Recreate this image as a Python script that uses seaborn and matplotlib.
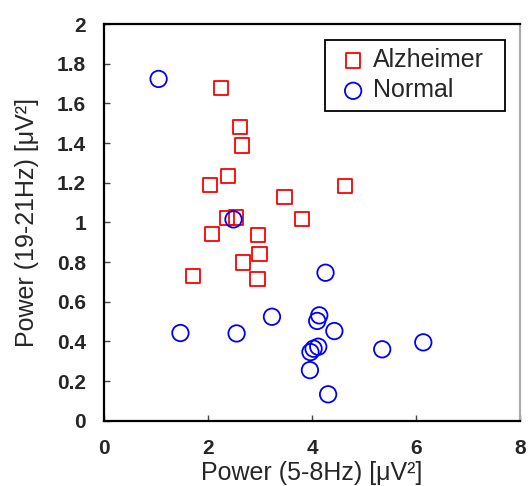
import matplotlib
matplotlib.use("Agg")
import matplotlib.pyplot as plt
from matplotlib.ticker import FuncFormatter
import seaborn as sns
import pandas as pd

GROUPS = ["Alzheimer", "Normal"]

ALZ_X = [2.25, 2.61, 2.65, 2.39, 2.04, 3.47, 4.64, 3.81, 2.36, 2.54, 2.08, 2.96, 2.99, 2.68, 1.71, 2.95]
ALZ_Y = [1.677, 1.479, 1.387, 1.235, 1.19, 1.126, 1.185, 1.018, 1.02, 1.025, 0.943, 0.938, 0.839, 0.797, 0.728, 0.713]

NOR_X = [1.05, 2.49, 4.26, 3.23, 4.14, 4.10, 4.43, 1.47, 2.55, 6.14, 5.35, 4.12, 4.03, 3.97, 3.96, 4.31]
NOR_Y = [1.723, 1.015, 0.746, 0.524, 0.531, 0.503, 0.452, 0.442, 0.440, 0.395, 0.360, 0.373, 0.363, 0.346, 0.255, 0.133]

df = pd.DataFrame({
    "theta": ALZ_X + NOR_X,
    "beta": ALZ_Y + NOR_Y,
    "group": [GROUPS[0]] * len(ALZ_X) + [GROUPS[1]] * len(NOR_X),
})

STYLE = {
    "Alzheimer": ("#ff0000", "s", 105),
    "Normal": ("#0000ff", "o", 140),
}

sns.set_style("white")
plt.rcParams["font.family"] = ["Liberation Sans", "DejaVu Sans"]

fig = plt.figure(figsize=(5.28, 4.86), dpi=100)
ax = fig.add_axes([104 / 528, 1 - 420.7 / 486, 416 / 528, 396.7 / 486])

for g in GROUPS:
    color, marker, size = STYLE[g]
    sub = df[df["group"] == g]
    sns.scatterplot(data=sub, x="theta", y="beta", ax=ax, marker=marker, s=size,
                    facecolor="none", edgecolor=color, linewidth=1.3, label=g)

ax.set_xlim(0, 8)
ax.set_ylim(0, 2)
ax.set_xticks([0, 2, 4, 6, 8])
ax.set_yticks([i * 0.2 for i in range(11)])
ax.yaxis.set_major_formatter(FuncFormatter(lambda v, p: f"{v:g}"))
ax.tick_params(direction="in", length=4, width=1, color="#444444",
               bottom=True, left=True, top=False, right=False, pad=13)
for lab in ax.get_xticklabels() + ax.get_yticklabels():
    lab.set_fontweight("bold")
    lab.set_fontsize(15)

for side in ["top", "left", "bottom"]:
    ax.spines[side].set_color("black")
    ax.spines[side].set_linewidth(1.6)
ax.spines["right"].set_color("#aaaaaa")
ax.spines["right"].set_linewidth(1.6)

ax.set_xlabel("Power (5-8Hz) [\u03bcV\u00b2]", fontsize=18, labelpad=2)
ax.set_ylabel("Power (19-21Hz) [\u03bcV\u00b2]", fontsize=18, labelpad=13)

# legend box spans a fixed width, like the original
leg = ax.legend(loc="upper left", bbox_to_anchor=(0.531, 0, 0.433, 0.960),
                mode="expand", borderaxespad=0, fontsize=18, frameon=True,
                fancybox=False, framealpha=1, edgecolor="black",
                handletextpad=0.0, borderpad=0.33, labelspacing=0.25,
                handlelength=1.6)
leg.get_frame().set_linewidth(1.3)

fig.savefig("out.png", dpi=100)
